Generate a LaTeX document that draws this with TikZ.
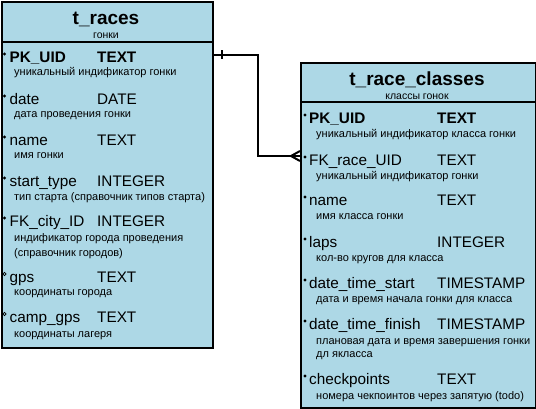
\documentclass[tikz,border=0pt]{standalone}
\usepackage{fontspec}
\setmainfont{Liberation Sans}
\usetikzlibrary{positioning}
\definecolor{tblblue}{RGB}{173,216,230}

\begin{document}
\begin{tikzpicture}[x=1pt,y=-1pt,
  tbl/.style={draw,line width=2pt,fill=tblblue,inner sep=0pt,anchor=north west},
  fld/.style={anchor=base west,inner sep=0pt,font=\fontsize{15.3}{18}\selectfont},
  note/.style={anchor=base west,inner sep=0pt,font=\fontsize{11}{13}\selectfont},
  ttl/.style={anchor=base,inner sep=0pt,font=\fontsize{19}{22}\selectfont\bfseries},
  ttlsub/.style={anchor=base,inner sep=0pt,font=\fontsize{10.5}{12}\selectfont},
  conn/.style={line width=2pt}]
  \useasboundingbox (0,0) rectangle (536,408);
  % t_races
  \node[tbl,minimum width=210.5pt,minimum height=345.5pt] (races) at (1,1) {};
  \draw[line width=2pt] (races.west |- 0,42) -- (races.east |- 0,42);
  \node[ttl] (racesT) at (106,24) {t\_races};
  \node[ttlsub] (racesS) at (106,38) {гонки};
  \fill (4.5,54) circle (1.6pt); \node[fld] (rPK) at (9.5,62) {\textbf{PK\_UID}}; \node[fld] (rPKt) at (97,62) {\textbf{TEXT}};
  \node[note] (rPKn) at (14,75.5) {уникальный индификатор гонки};
  \fill (4.5,96) circle (1.6pt); \node[fld] (rDate) at (9.5,104) {date}; \node[fld] (rDatet) at (97,104) {DATE};
  \node[note] (rDaten) at (14,117) {дата проведения гонки};
  \fill (4.5,137) circle (1.6pt); \node[fld] (rName) at (9.5,145) {name}; \node[fld] (rNamet) at (97,145) {TEXT};
  \node[note] (rNamen) at (14,158) {имя гонки};
  \fill (4.5,178) circle (1.6pt); \node[fld] (rStart) at (9.5,186) {start\_type}; \node[fld] (rStartt) at (97,186) {INTEGER};
  \node[note] (rStartn) at (14,200) {тип старта (справочник типов старта)};
  \fill (4.5,218) circle (1.6pt); \node[fld] (rCity) at (9.5,226) {FK\_city\_ID}; \node[fld] (rCityt) at (97,226) {INTEGER};
  \node[note] (rCityn) at (14,241) {индификатор города проведения};
  \node[note] (rCityn2) at (14,256) {(справочник городов)};
  \draw[line width=0.8pt] (4.5,274) circle (1.6pt); \node[fld] (rGps) at (9.5,282) {gps}; \node[fld] (rGpst) at (97,282) {TEXT};
  \node[note] (rGpsn) at (14,295) {координаты города};
  \draw[line width=0.8pt] (4.5,314) circle (1.6pt); \node[fld] (rCamp) at (9.5,322) {camp\_gps}; \node[fld] (rCampt) at (97,322) {TEXT};
  \node[note] (rCampn) at (14,337) {координаты лагеря};
  % t_race_classes
  \node[tbl,minimum width=234.5pt,minimum height=344.5pt] (classes) at (300,62) {};
  \draw[line width=2pt] (classes.west |- 0,102) -- (classes.east |- 0,102);
  \node[ttl] (classesT) at (417,85) {t\_race\_classes};
  \node[ttlsub] (classesS) at (417,99) {классы гонок};
  \fill (305,115) circle (1.6pt); \node[fld] (cPK) at (309,123) {\textbf{PK\_UID}}; \node[fld] (cPKt) at (437,123) {\textbf{TEXT}};
  \node[note] (cPKn) at (316,137) {уникальный индификатор класса гонки};
  \fill (305,157) circle (1.6pt); \node[fld] (cFK) at (309,165) {FK\_race\_UID}; \node[fld] (cFKt) at (437,165) {TEXT};
  \node[note] (cFKn) at (316,179) {уникальный индификатор гонки};
  \fill (305,197) circle (1.6pt); \node[fld] (cName) at (309,205) {name}; \node[fld] (cNamet) at (437,205) {TEXT};
  \node[note] (cNamen) at (316,219) {имя класса гонки};
  \fill (305,239) circle (1.6pt); \node[fld] (cLaps) at (309,247) {laps}; \node[fld] (cLapst) at (437,247) {INTEGER};
  \node[note] (cLapsn) at (316,261) {кол-во кругов для класса};
  \fill (305,280) circle (1.6pt); \node[fld] (cStart) at (309,288) {date\_time\_start}; \node[fld] (cStartt) at (437,288) {TIMESTAMP};
  \node[note] (cStartn) at (316,302) {дата и время начала гонки для класса};
  \fill (305,321) circle (1.6pt); \node[fld] (cFin) at (309,329) {date\_time\_finish}; \node[fld] (cFint) at (437,329) {TIMESTAMP};
  \node[note] (cFinn) at (316,344) {плановая дата и время завершения гонки};
  \node[note] (cFinn2) at (316,357) {дл якласса};
  \fill (305,376) circle (1.6pt); \node[fld] (cChk) at (309,384) {checkpoints}; \node[fld] (cChkt) at (437,384) {TEXT};
  \node[note] (cChkn) at (316,399) {номера чекпоинтов через запятую (todo)};
  % relation
  \coordinate (racesPK) at (races.east |- 0,54.5);
  \coordinate (classFK) at (classes.west |- 0,156);
  \draw[conn] (racesPK) -- ++(44.5,0) |- (classFK);
  \draw[conn] (222,50) -- (222,59);
  \draw[conn] (classFK) ++(-9,0) -- ++(9,-5) ++(-9,5) -- ++(9,5);
\end{tikzpicture}
\end{document}
